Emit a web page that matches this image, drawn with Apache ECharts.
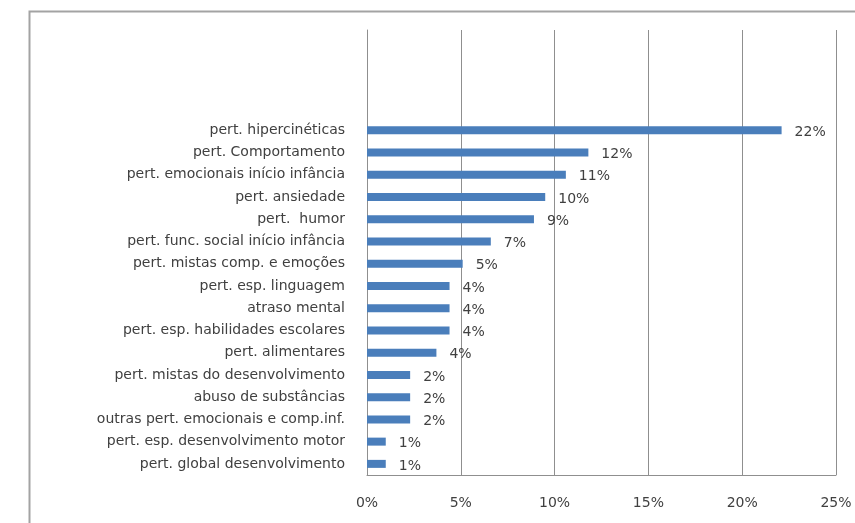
<!DOCTYPE html>
<html>
<head>
<meta charset="utf-8">
<script src="https://cdn.jsdelivr.net/npm/echarts@6/dist/echarts.min.js"></script>
<style>
  html, body { margin: 0; padding: 0; background: #ffffff; }
  #chart { width: 855px; height: 523px; }
</style>
</head>
<body>
<div id="chart"></div>
<script>
// Categories listed top to bottom
const categories = [
  'pert. hipercinéticas',
  'pert. Comportamento',
  'pert. emocionais início infância',
  'pert. ansiedade',
  'pert.  humor',
  'pert. func. social início infância',
  'pert. mistas comp. e emoções',
  'pert. esp. linguagem',
  'atraso mental',
  'pert. esp. habilidades escolares',
  'pert. alimentares',
  'pert. mistas do desenvolvimento',
  'abuso de substâncias',
  'outras pert. emocionais e comp.inf.',
  'pert. esp. desenvolvimento motor',
  'pert. global desenvolvimento'
];

// Share of cases, in percent
const shares = [22.1, 11.8, 10.6, 9.5, 8.9, 6.6, 5.1, 4.4, 4.4, 4.4, 3.7, 2.3, 2.3, 2.3, 1.0, 1.0];

// Value-axis ticks
const tickValues = [0, 5, 10, 15, 20, 25];

// Four empty rows sit above the listed categories
const blankRows = 4;
const axisCategories = Array(blankRows).fill('').concat(categories);
const axisValues = Array(blankRows).fill('-').concat(shares);

const textColor = '#404040';
const fontFamily = 'DejaVu Sans';

const chart = echarts.init(document.getElementById('chart'), null, { renderer: 'canvas' });

chart.setOption({
  animation: false,
  backgroundColor: '#ffffff',
  grid: { left: 367, right: 19, top: 30, bottom: 48, containLabel: false },
  xAxis: {
    type: 'value',
    min: tickValues[0],
    max: tickValues[tickValues.length - 1],
    interval: tickValues[1] - tickValues[0],
    axisLine: { show: true, lineStyle: { color: '#8f8f8f', width: 1 } },
    axisTick: { show: false },
    splitLine: { show: true, lineStyle: { color: '#8f8f8f', width: 1 } },
    axisLabel: {
      margin: 21,
      color: textColor,
      fontFamily: fontFamily,
      fontSize: 14,
      formatter: v => v + '%'
    }
  },
  yAxis: {
    type: 'category',
    inverse: true,
    data: axisCategories,
    axisLine: { show: true, lineStyle: { color: '#8f8f8f', width: 1 } },
    axisTick: { show: false },
    axisLabel: {
      margin: 22,
      color: textColor,
      fontFamily: fontFamily,
      fontSize: 14,
      interval: 0
    }
  },
  series: [{
    type: 'bar',
    data: axisValues,
    barWidth: 8,
    itemStyle: { color: '#4A7EBB' },
    label: {
      show: true,
      position: 'right',
      distance: 13,
      offset: [0, 2],
      color: textColor,
      fontFamily: fontFamily,
      fontSize: 14,
      formatter: p => Math.round(p.value) + '%'
    }
  }],
  graphic: [{
    type: 'rect',
    left: 27,
    top: 9,
    shape: { width: 900, height: 600 },
    style: { fill: 'none', stroke: '#a3a3a3', lineWidth: 2 },
    silent: true
  }]
});
</script>
</body>
</html>
